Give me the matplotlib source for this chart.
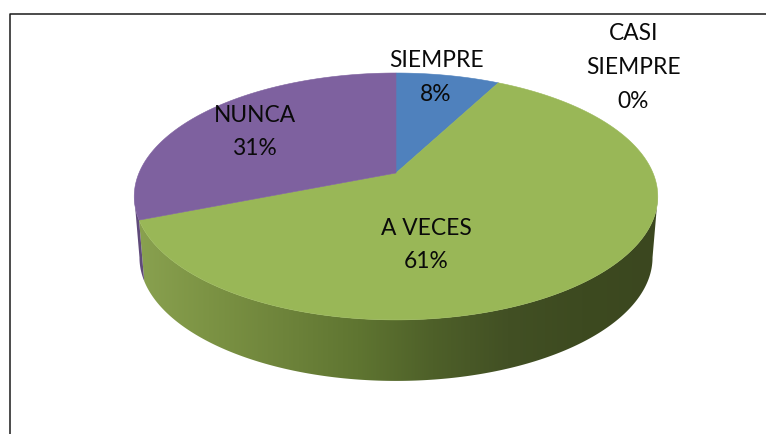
import numpy as np
import matplotlib
matplotlib.use("Agg")
import matplotlib.pyplot as plt
from matplotlib.colors import LinearSegmentedColormap
from matplotlib.patches import Polygon

categories = ["SIEMPRE", "CASI\nSIEMPRE", "A VECES", "NUNCA"]
values = [7.7, 0.0, 61.3, 31.0]
colors = ["#4F81BD", "#99B757", "#99B757", "#7E619F"]
label_pos = [(436, 77.5), (633.5, 67.5), (426, 245), (255, 132)]

# pie geometry in pixels, the tilt gives the perspective
cx, cy = 396, 173
R = 257
k = 119
p = 0.19
depth = 61
shrink = 0.98


def rim(a, scale=1.0, dy=0):
    # a is degrees clockwise from the top of the pie
    a = np.radians(a)
    u, v = np.sin(a), -np.cos(a)
    s = 1 / (1 - p * v)
    return np.column_stack([cx + R * scale * u * s, cy + k * v * s + dy])


fig = plt.figure(figsize=(7.66, 4.34), dpi=100)
ax = fig.add_axes([0, 0, 1, 1])
ax.set_xlim(0, 766)
ax.set_ylim(434, 0)
ax.axis("off")

# frame, only top and left are visible
ax.plot([9.5, 9.5, 766], [434, 13.5, 13.5], color="#1a1a1a", lw=1.1, zorder=1)

edges = np.concatenate([[0], np.cumsum(values)]) * 3.6
right_a = 90 + np.degrees(np.arcsin(p))
left_a = 270 - np.degrees(np.arcsin(p))
purple_start = edges[3]

# side wall: green with a horizontal gradient, small dark purple piece on the left
a = np.linspace(right_a, purple_start, 200)
side = np.vstack([rim(a), rim(a[::-1], shrink, depth)])
cmap = LinearSegmentedColormap.from_list(
    "side", ["#8AA250", "#7C9344", "#6E843B", "#5F7531", "#4E6029", "#425024", "#3D4A20", "#3B471F"])
grad = np.linspace(0, 1, 256).reshape(1, -1)
im = ax.imshow(grad, extent=[133, 658, 434, 0], aspect="auto", cmap=cmap, zorder=2)
clip = Polygon(side, closed=True, transform=ax.transData, fc="none", ec="none")
ax.add_patch(clip)
im.set_clip_path(clip)
ax.set_xlim(0, 766)
ax.set_ylim(434, 0)

a = np.linspace(purple_start, left_a, 40)
side = np.vstack([rim(a), rim(a[::-1], shrink, depth)])
ax.add_patch(Polygon(side, closed=True, fc="#5F4A7A", ec="none", zorder=2))

# top face
for i in range(len(values)):
    if values[i] == 0:
        continue
    a = np.linspace(edges[i], edges[i + 1], 300)
    pts = np.vstack([[cx, cy], rim(a)])
    ax.add_patch(Polygon(pts, closed=True, fc=colors[i], ec=colors[i], lw=0.4, zorder=3))

# labels
for name, val, pos in zip(categories, values, label_pos):
    ax.text(pos[0], pos[1], f"{name}\n{val:.0f}%", family=["Lato", "DejaVu Sans"],
            fontsize=16.4, color="#0a0a0a", ha="center", va="center",
            linespacing=1.75, zorder=4)

fig.savefig("out.png", dpi=100, facecolor="white")
